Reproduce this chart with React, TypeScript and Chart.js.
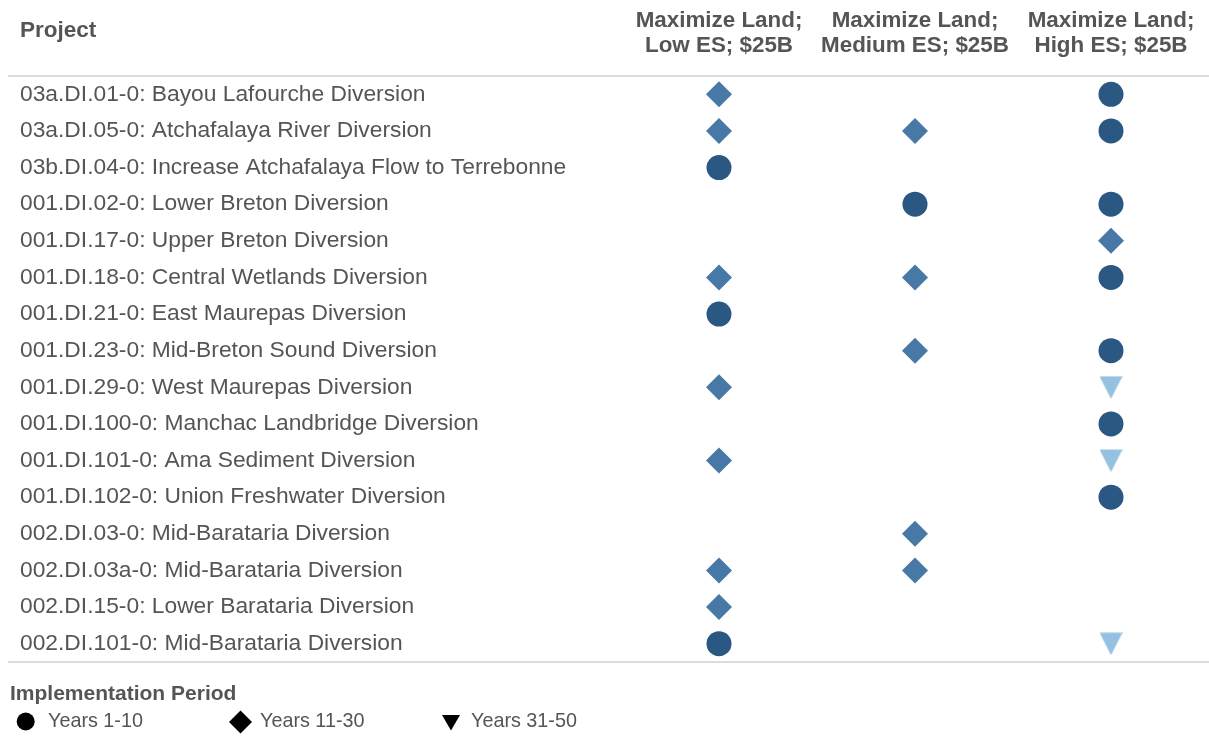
import React, { useEffect, useRef } from "react";
import { Chart, registerables } from "chart.js";

Chart.register(...registerables);

const FONT = "'Liberation Sans', Arial, Helvetica, sans-serif";
const TEXT = "#555555";

const projects = [
  "03a.DI.01-0: Bayou Lafourche Diversion",
  "03a.DI.05-0: Atchafalaya River Diversion",
  "03b.DI.04-0: Increase Atchafalaya Flow to Terrebonne",
  "001.DI.02-0: Lower Breton Diversion",
  "001.DI.17-0: Upper Breton Diversion",
  "001.DI.18-0: Central Wetlands Diversion",
  "001.DI.21-0: East Maurepas Diversion",
  "001.DI.23-0: Mid-Breton Sound Diversion",
  "001.DI.29-0: West Maurepas Diversion",
  "001.DI.100-0: Manchac Landbridge Diversion",
  "001.DI.101-0: Ama Sediment Diversion",
  "001.DI.102-0: Union Freshwater Diversion",
  "002.DI.03-0: Mid-Barataria Diversion",
  "002.DI.03a-0: Mid-Barataria Diversion",
  "002.DI.15-0: Lower Barataria Diversion",
  "002.DI.101-0: Mid-Barataria Diversion",
];

const columnKeys = ["Low", "Medium", "High"];
const columnHeaders = [
  ["Maximize Land;", "Low ES; $25B"],
  ["Maximize Land;", "Medium ES; $25B"],
  ["Maximize Land;", "High ES; $25B"],
];

const periods = ["Years 1-10", "Years 11-30", "Years 31-50"];
const periodColors = ["#2b5783", "#4778a6", "#94c1df"];

// 0 = not selected, 1 = Years 1-10, 2 = Years 11-30, 3 = Years 31-50
const lowES = [2, 2, 1, 0, 0, 2, 1, 0, 2, 0, 2, 0, 0, 2, 2, 1];
const mediumES = [0, 2, 0, 1, 0, 2, 0, 2, 0, 0, 0, 0, 2, 2, 0, 0];
const highES = [1, 1, 0, 1, 2, 1, 0, 1, 3, 1, 3, 1, 0, 0, 0, 3];

const projectHeader = "Project";
const legendTitle = "Implementation Period";

export default function App() {
  const ref = useRef<HTMLCanvasElement>(null);

  useEffect(() => {
    if (!ref.current) return;

    const tri = document.createElement("canvas");
    tri.width = 23;
    tri.height = 23;
    const tctx = tri.getContext("2d")!;
    tctx.fillStyle = periodColors[2];
    tctx.beginPath();
    tctx.moveTo(0, 0.5);
    tctx.lineTo(23, 0.5);
    tctx.lineTo(11.5, 23);
    tctx.closePath();
    tctx.fill();

    const columnSeries = [lowES, mediumES, highES];
    const styles: any[] = ["circle", "rectRot", tri];
    const radii = [12.5, 13, 12];

    const datasets = periods.map((p, pi) => ({
      label: p,
      data: columnSeries.flatMap((series, ci) =>
        series
          .map((code, ri) => (code === pi + 1 ? { x: columnKeys[ci], y: projects[ri] } : null))
          .filter((d) => d !== null)
      ),
      pointStyle: styles[pi],
      pointRadius: radii[pi],
      pointHoverRadius: radii[pi],
      backgroundColor: periodColors[pi],
      borderColor: periodColors[pi],
      pointBorderWidth: 0,
      showLine: false,
    }));

    const decor = {
      id: "decor",
      afterDraw(chart: any) {
        const ctx = chart.ctx as CanvasRenderingContext2D;
        const { top, bottom } = chart.chartArea;
        const W = chart.width;
        ctx.save();
        ctx.strokeStyle = "#dcdcdc";
        ctx.lineWidth = 2;
        ctx.beginPath();
        ctx.moveTo(8, top);
        ctx.lineTo(W, top);
        ctx.moveTo(8, bottom);
        ctx.lineTo(W, bottom);
        ctx.stroke();

        ctx.fillStyle = TEXT;
        ctx.textBaseline = "middle";
        ctx.textAlign = "left";
        ctx.font = `bold 22.5px ${FONT}`;
        ctx.fillText(projectHeader, 20, 31);

        // legend
        ctx.font = `bold 21px ${FONT}`;
        ctx.fillText(legendTitle, 10, 694);
        const ly = 722;
        const markerX = [25.7, 240.5, 451];
        const textX = [48, 260, 471];
        periods.forEach((p, i) => {
          const cx = markerX[i];
          ctx.fillStyle = "#000";
          ctx.beginPath();
          if (i === 0) {
            ctx.arc(cx, ly - 0.5, 9, 0, Math.PI * 2);
          } else if (i === 1) {
            ctx.moveTo(cx - 11.5, ly);
            ctx.lineTo(cx, ly - 11.5);
            ctx.lineTo(cx + 11.5, ly);
            ctx.lineTo(cx, ly + 11.5);
            ctx.closePath();
          } else {
            ctx.moveTo(cx - 9, ly - 7);
            ctx.lineTo(cx + 9, ly - 7);
            ctx.lineTo(cx, ly + 8.5);
            ctx.closePath();
          }
          ctx.fill();
          ctx.fillStyle = TEXT;
          ctx.font = `19.8px ${FONT}`;
          ctx.fillText(p, textX[i], ly);
        });
        ctx.restore();
      },
    };

    const chart = new Chart(ref.current, {
      type: "scatter",
      data: { datasets: datasets as any },
      options: {
        animation: false,
        responsive: true,
        maintainAspectRatio: false,
        events: [],
        layout: { autoPadding: false, padding: { left: 20, right: 0, top: 0, bottom: 74 } },
        plugins: {
          legend: { display: false },
          tooltip: { enabled: false },
        },
        scales: {
          x: {
            type: "category",
            labels: columnKeys,
            position: "top",
            offset: true,
            grid: { display: false, drawTicks: false },
            border: { display: false },
            ticks: {
              color: TEXT,
              autoSkip: false,
              maxRotation: 0,
              padding: 18,
              font: { family: FONT, size: 22.4, weight: "bold", lineHeight: 1.12 },
              callback: (_v: any, i: number) => columnHeaders[i],
            },
            afterFit: (s: any) => {
              s.height = 76;
              s.paddingLeft = 0;
              s.paddingRight = 0;
            },
          },
          y: {
            type: "category",
            labels: projects,
            offset: true,
            grid: { display: false, drawTicks: false },
            border: { display: false },
            ticks: {
              color: TEXT,
              autoSkip: false,
              crossAlign: "far",
              padding: 0,
              font: { family: FONT, size: 22.8 },
            },
            afterFit: (s: any) => {
              s.width = 601;
              s.paddingTop = 0;
              s.paddingBottom = 0;
            },
          },
        },
      } as any,
      plugins: [decor],
    });

    return () => chart.destroy();
  }, []);

  return (
    <div style={{ position: "absolute", left: 0, top: 0, width: 1209, height: 736 }}>
      <canvas ref={ref} />
    </div>
  );
}
